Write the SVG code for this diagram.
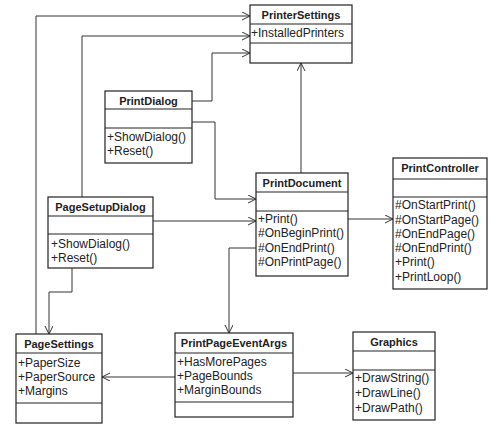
<svg xmlns="http://www.w3.org/2000/svg" width="500" height="431" viewBox="0 0 500 431">
<defs>
<style>
.box{fill:#fff;stroke:#222;stroke-width:1.2}
.div{stroke:#222;stroke-width:1.1}
.h{font-family:"Liberation Sans",Arial,sans-serif;font-size:11px;font-weight:bold;fill:#222;text-anchor:middle}
.t{font-family:"Liberation Sans",Arial,sans-serif;font-size:12px;fill:#222}
.c{fill:none;stroke:#333;stroke-width:1;marker-end:url(#arr)}
</style>
<marker id="arr" markerUnits="userSpaceOnUse" markerWidth="10" markerHeight="10" refX="8" refY="4" orient="auto">
<path d="M0,0 L8,4 L0,8" fill="none" stroke="#333" stroke-width="1"/>
</marker>
</defs>
<rect width="500" height="431" fill="#fff"/>
<g id="connectors">
<polyline class="c" points="36,334 36,16 250,16"/>
<polyline class="c" points="82,197 82,36 250,36"/>
<polyline class="c" points="192,101 212,101 212,53 250,53"/>
<polyline class="c" points="192,122 215,122 215,199 256,199"/>
<polyline class="c" points="153,221 256,221"/>
<polyline class="c" points="301,173 301,63"/>
<polyline class="c" points="348,219 393,219"/>
<polyline class="c" points="256,248 229,248 229,333"/>
<polyline class="c" points="72,268 72,292 49,292 49,334"/>
<polyline class="c" points="175,377 102,377"/>
<polyline class="c" points="293,373 353,373"/>
</g>
<g id="PrinterSettings">
<rect class="box" x="250" y="5" width="102" height="58"/>
<line class="div" x1="250" y1="24" x2="352" y2="24"/>
<line class="div" x1="250" y1="43" x2="352" y2="43"/>
<text class="h" x="301" y="19">PrinterSettings</text>
<text class="t" x="251" y="37">+InstalledPrinters</text>
</g>
<g id="PrintDialog">
<rect class="box" x="105" y="91" width="87" height="72"/>
<line class="div" x1="105" y1="109" x2="192" y2="109"/>
<line class="div" x1="105" y1="128" x2="192" y2="128"/>
<text class="h" x="148.5" y="105">PrintDialog</text>
<text class="t" x="107" y="141">+ShowDialog()</text>
<text class="t" x="107" y="155">+Reset()</text>
</g>
<g id="PageSetupDialog">
<rect class="box" x="48" y="197" width="105" height="71"/>
<line class="div" x1="48" y1="216" x2="153" y2="216"/>
<line class="div" x1="48" y1="234" x2="153" y2="234"/>
<text class="h" x="100.5" y="211">PageSetupDialog</text>
<text class="t" x="51" y="248">+ShowDialog()</text>
<text class="t" x="51" y="262">+Reset()</text>
</g>
<g id="PrintDocument">
<rect class="box" x="256" y="173" width="92" height="103"/>
<line class="div" x1="256" y1="192" x2="348" y2="192"/>
<line class="div" x1="256" y1="211" x2="348" y2="211"/>
<text class="h" x="302" y="187">PrintDocument</text>
<text class="t" x="258" y="223">+Print()</text>
<text class="t" x="258" y="237">#OnBeginPrint()</text>
<text class="t" x="258" y="252">#OnEndPrint()</text>
<text class="t" x="258" y="266">#OnPrintPage()</text>
</g>
<g id="PrintController">
<rect class="box" x="393" y="158" width="94" height="131"/>
<line class="div" x1="393" y1="179" x2="487" y2="179"/>
<line class="div" x1="393" y1="197" x2="487" y2="197"/>
<text class="h" x="440" y="172">PrintController</text>
<text class="t" x="395" y="209">#OnStartPrint()</text>
<text class="t" x="395" y="224">#OnStartPage()</text>
<text class="t" x="395" y="238">#OnEndPage()</text>
<text class="t" x="395" y="252">#OnEndPrint()</text>
<text class="t" x="395" y="266">+Print()</text>
<text class="t" x="395" y="281">+PrintLoop()</text>
</g>
<g id="PageSettings">
<rect class="box" x="16" y="334" width="86" height="89"/>
<line class="div" x1="16" y1="353" x2="102" y2="353"/>
<line class="div" x1="16" y1="403" x2="102" y2="403"/>
<text class="h" x="59" y="348">PageSettings</text>
<text class="t" x="18" y="367">+PaperSize</text>
<text class="t" x="18" y="381">+PaperSource</text>
<text class="t" x="18" y="395">+Margins</text>
</g>
<g id="PrintPageEventArgs">
<rect class="box" x="175" y="333" width="118" height="84"/>
<line class="div" x1="175" y1="353" x2="293" y2="353"/>
<line class="div" x1="175" y1="402" x2="293" y2="402"/>
<text class="h" x="234" y="347">PrintPageEventArgs</text>
<text class="t" x="177" y="366">+HasMorePages</text>
<text class="t" x="177" y="380">+PageBounds</text>
<text class="t" x="177" y="394">+MarginBounds</text>
</g>
<g id="Graphics">
<rect class="box" x="353" y="332" width="82" height="88"/>
<line class="div" x1="353" y1="351" x2="435" y2="351"/>
<line class="div" x1="353" y1="370" x2="435" y2="370"/>
<text class="h" x="394" y="346">Graphics</text>
<text class="t" x="355" y="382">+DrawString()</text>
<text class="t" x="355" y="397">+DrawLine()</text>
<text class="t" x="355" y="412">+DrawPath()</text>
</g>
</svg>
